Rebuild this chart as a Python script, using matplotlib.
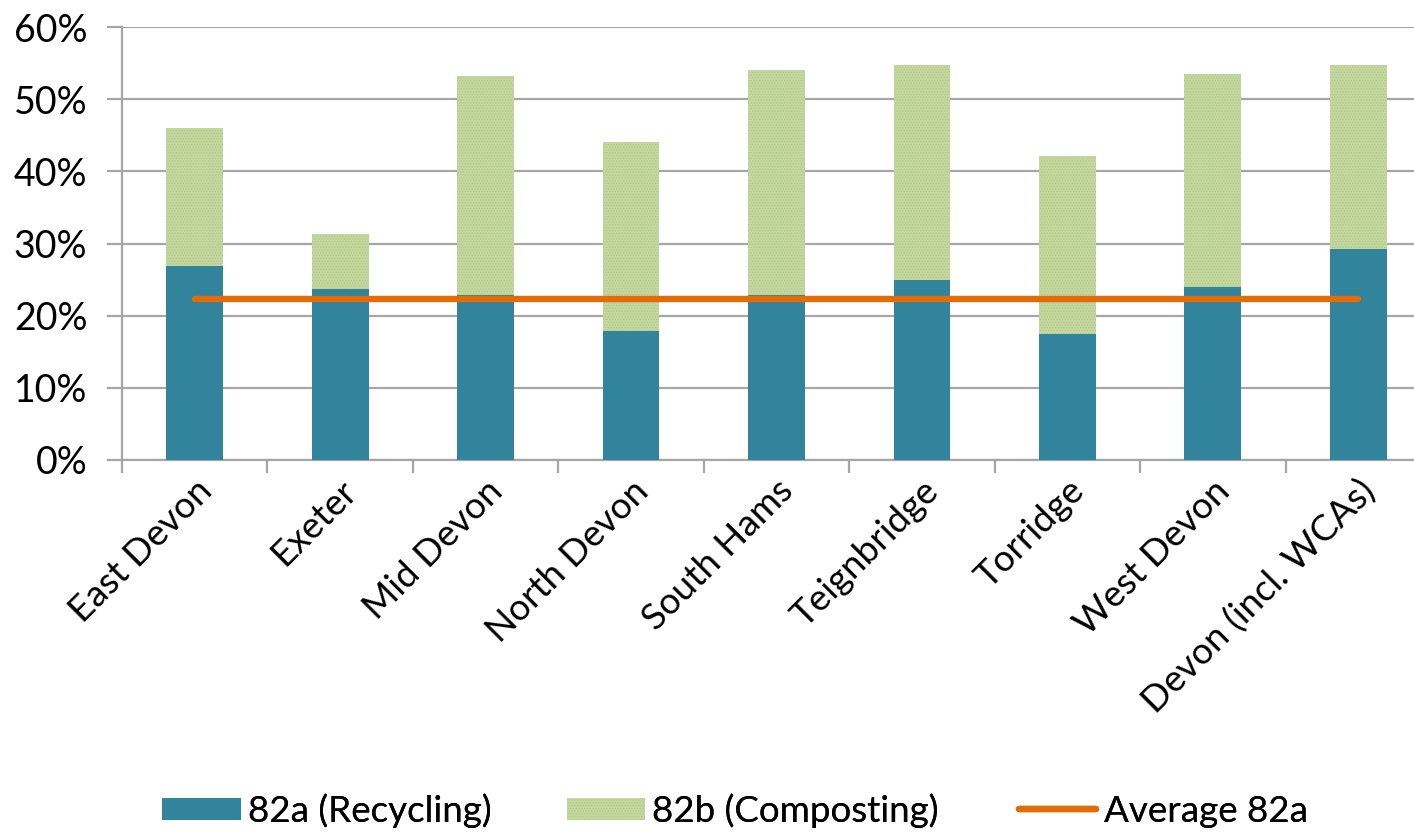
import matplotlib
matplotlib.use("Agg")
import matplotlib.pyplot as plt
from matplotlib.patches import Patch
from matplotlib.lines import Line2D
import numpy as np

categories = ["East Devon", "Exeter", "Mid Devon", "North Devon", "South Hams",
              "Teignbridge", "Torridge", "West Devon", "Devon (incl. WCAs)"]
recycling = [26.9, 23.7, 22.9, 17.9, 22.9, 25.0, 17.4, 24.0, 29.2]
total = [46.0, 31.3, 53.2, 44.0, 54.0, 54.8, 42.1, 53.5, 54.8]
composting = [t - r for t, r in zip(total, recycling)]
average_82a = [22.3] * len(categories)
yticks = [0, 10, 20, 30, 40, 50, 60]
ytick_labels = ["0%", "10%", "20%", "30%", "40%", "50%", "60%"]
legend_labels = ["82a (Recycling)", "82b (Composting)", "Average 82a"]

TEAL = "#31849B"
GREEN = "#C4D79F"
ORANGE = "#E36C09"
GRID = "#A6A6A6"

plt.rcParams['font.family'] = ['Lato', 'DejaVu Sans']
plt.rcParams['hatch.linewidth'] = 0.6

W, H = 1414, 834
fig = plt.figure(figsize=(W / 100, H / 100), dpi=100)
left = 122 / W
right = 1431 / W
bottom = 1 - 460 / H
top = 1 - 27 / H
ax = fig.add_axes([left, bottom, right - left, top - bottom])

x = np.arange(len(categories))
bw = 0.39
ax.bar(x, recycling, width=bw, color=TEAL, zorder=3, linewidth=0)
ax.bar(x, composting, bottom=recycling, width=bw, facecolor=GREEN,
       edgecolor="#B2C98A", hatch="......", linewidth=0, zorder=3)
ax.plot(x, average_82a, color=ORANGE, linewidth=4.6, solid_capstyle='round', zorder=4)

ax.set_xlim(-0.5, len(categories) - 0.5)
ax.set_ylim(0, 60)
ax.set_yticks(yticks)
ax.set_yticklabels(ytick_labels)
ax.yaxis.grid(True, color=GRID, linewidth=1.6, zorder=0)
ax.set_axisbelow(True)

ax.set_xticks(np.arange(len(categories) + 1) - 0.5, minor=False)
ax.set_xticklabels([])
ax.set_xticks(x, minor=True)
ax.set_xticklabels(categories, minor=True, rotation=45, ha='right', va='top',
                   rotation_mode='anchor', fontsize=26.5)
ax.tick_params(axis='x', which='minor', length=0, pad=10)
ax.tick_params(axis='x', which='major', length=9, width=1.6, color=GRID, direction='out')
ax.tick_params(axis='y', length=11, width=1.6, color=GRID, labelsize=27, pad=14)

for s in ['top', 'right']:
    ax.spines[s].set_visible(False)
for s in ['left', 'bottom']:
    ax.spines[s].set_color(GRID)
    ax.spines[s].set_linewidth(1.6)

handles = [Patch(facecolor=TEAL, edgecolor='none'),
           Patch(facecolor=GREEN, edgecolor="#B2C98A", hatch="......", linewidth=0),
           Line2D([0], [0], color=ORANGE, linewidth=4.6, solid_capstyle='round')]
lx = [162, 567, 1019]
hl = [2.15, 2.12, 2.1]
for h, lab, px, l in zip(handles, legend_labels, lx, hl):
    leg = fig.legend([h], [lab], loc='center left', bbox_to_anchor=(px / W, 1 - 811 / H),
                     frameon=False, fontsize=26.5, handlelength=l, handleheight=0.55,
                     handletextpad=0.2, borderpad=0, borderaxespad=0)
    fig.add_artist(leg)

fig.savefig("out.png", dpi=100)
